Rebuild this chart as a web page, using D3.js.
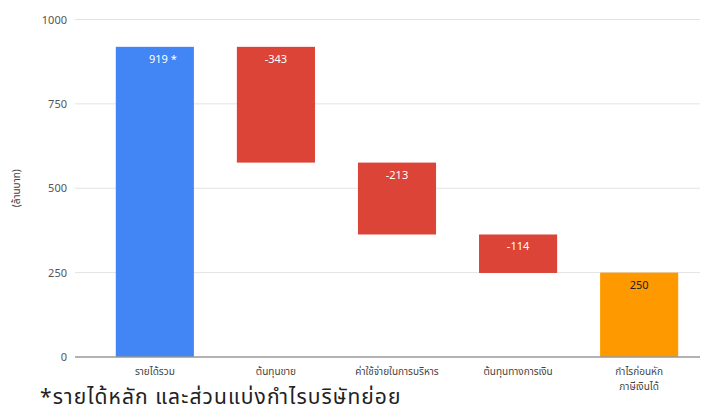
<!DOCTYPE html>
<html>
<head>
<meta charset="utf-8">
<script src="https://cdn.jsdelivr.net/npm/d3@7"></script>
<style>
  body { margin: 0; background: #fff; }
  svg text { font-family: "Noto Sans Thai", "Noto Sans", "DejaVu Sans", sans-serif; }
</style>
</head>
<body>
<script>
// chart data
var categories = ["รายได้รวม", "ต้นทุนขาย", "ค่าใช้จ่ายในการบริหาร", "ต้นทุนทางการเงิน", "กำไรก่อนหัก|ภาษีเงินได้"];
var values = [919, -343, -213, -114, 250];
var kinds = ["total", "down", "down", "down", "result"];
var barLabels = ["919 *", "-343", "-213", "-114", "250"];
var yTicks = [0, 250, 500, 750, 1000];

var width = 710, height = 416;

var svg = d3.select("body").append("svg")
    .attr("width", width)
    .attr("height", height);

var x = d3.scaleBand()
    .domain(categories)
    .range([94, 700])
    .paddingInner(0.355)
    .paddingOuter(0.18);

var y = d3.scaleLinear()
    .domain([0, 1000])
    .range([357, 19.5]);

var colors = { total: "#4285f4", down: "#db4437", result: "#ff9900" };

// waterfall start/end
var run = 0;
var bars = categories.map(function(c, i){
    var v = values[i], lo, hi;
    if (kinds[i] == "down") {
        hi = run; lo = run + v; run = lo;
    } else if (kinds[i] == "total") {
        lo = 0; hi = v; run = v;
    } else {
        lo = 0; hi = v;
    }
    return { cat: c, lo: lo, hi: hi, kind: kinds[i], label: barLabels[i] };
});

// gridlines
svg.selectAll(".grid")
    .data(yTicks.filter(function(d){ return d > 0; }))
    .enter().append("line")
    .attr("x1", 75).attr("x2", 700)
    .attr("y1", function(d){ return y(d); })
    .attr("y2", function(d){ return y(d); })
    .attr("stroke", "#e3e3e3")
    .attr("stroke-width", 1);

// tick labels
svg.selectAll(".ytick")
    .data(yTicks)
    .enter().append("text")
    .attr("x", 67)
    .attr("y", function(d){ return y(d) + 4; })
    .attr("text-anchor", "end")
    .attr("font-size", 11)
    .attr("fill", "#555")
    .text(function(d){ return d; });

// axis title
svg.append("text")
    .attr("transform", "translate(20," + y(500) + ") rotate(-90)")
    .attr("text-anchor", "middle")
    .attr("font-size", 10)
    .attr("fill", "#444")
    .text("(ล้านบาท)");

// bars
svg.selectAll(".bar")
    .data(bars)
    .enter().append("rect")
    .attr("x", function(d){ return x(d.cat); })
    .attr("width", x.bandwidth())
    .attr("y", function(d){ return y(d.hi); })
    .attr("height", function(d){ return y(d.lo) - y(d.hi); })
    .attr("fill", function(d){ return colors[d.kind]; });

// baseline
svg.append("line")
    .attr("x1", 75).attr("x2", 700)
    .attr("y1", y(0)).attr("y2", y(0))
    .attr("stroke", "#999")
    .attr("stroke-width", 1.5);

// bar value labels
svg.selectAll(".val")
    .data(bars)
    .enter().append("text")
    .attr("x", function(d, i){ return x(d.cat) + x.bandwidth() / 2 + (i == 0 ? 8 : 0); })
    .attr("y", function(d){ return y(d.hi) + 16; })
    .attr("text-anchor", "middle")
    .attr("font-size", 11)
    .attr("fill", function(d){ return d.kind == "result" ? "#222" : "#fff"; })
    .text(function(d){ return d.label; });

// category labels
var catText = svg.selectAll(".cat")
    .data(categories)
    .enter().append("text")
    .attr("x", function(d){ return x(d) + x.bandwidth() / 2; })
    .attr("y", 375)
    .attr("text-anchor", "middle")
    .attr("font-size", 10)
    .attr("fill", "#444");

catText.selectAll("tspan")
    .data(function(d){ return d.split("|"); })
    .enter().append("tspan")
    .attr("x", function(){ return d3.select(this.parentNode).attr("x"); })
    .attr("dy", function(d, i){ return i == 0 ? 0 : 15; })
    .text(function(d){ return d; });

// footnote
svg.append("text")
    .attr("x", 40)
    .attr("y", 404)
    .attr("font-size", 21)
    .attr("letter-spacing", 1.1)
    .attr("fill", "#222")
    .text("*รายได้หลัก และส่วนแบ่งกำไรบริษัทย่อย");
</script>
</body>
</html>
